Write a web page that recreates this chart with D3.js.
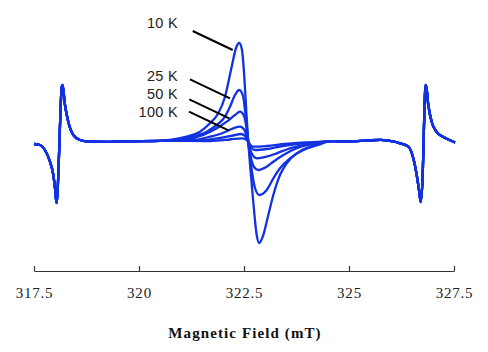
<!DOCTYPE html>
<html>
<head>
<meta charset="utf-8">
<script src="https://cdn.jsdelivr.net/npm/d3@7"></script>
<style>
  body { margin: 0; background: #fff; }
  svg { display: block; }
</style>
</head>
<body>
<div id="chart"></div>
<script>
// field in mT, signal in arbitrary units (positive = up)
var markerLow = [
    [317.50, -2], [317.64, -3], [317.76, -8], [317.88, -19.7], [317.96, -33],
    [318.00, -46], [318.036, -61], [318.079, -33], [318.119, 17], [318.16, 55],
    [318.179, 57], [318.238, 37], [318.317, 20], [318.436, 7], [318.595, 2], [318.82, 0.3]
];
var markerHigh = [
    [326.214, -1.3], [326.412, -4.7], [326.531, -16.3], [326.612, -33], [326.674, -50],
    [326.707, -60], [326.755, -33], [326.786, 17], [326.817, 54], [326.833, 57],
    [326.888, 37], [326.969, 20], [327.088, 10], [327.245, 5], [327.483, 0.3], [327.524, -0.5]
];
var baselineLow = [[319.2, 0.2], [319.6, 0.6], [320.1, 0.8], [320.5, 1.2]];
var baselineHigh = [[324.6, 0.8], [325.0, 0.6], [325.4, 1.4], [325.75, 2.2], [326.05, 0.6]];

var temps = ["10 K", "25 K", "50 K", "100 K", "", ""];

var centre10 = [
    [320.738, 2], [321.136, 5.3], [321.452, 10.3], [321.69, 18.7], [321.888, 28.7],
    [322.048, 45.3], [322.207, 75.3], [322.31, 94], [322.388, 99], [322.452, 92],
    [322.512, 62], [322.56, 27], [322.602, 0], [322.655, -28], [322.721, -60],
    [322.802, -93], [322.864, -101], [322.96, -93], [323.079, -73], [323.198, -53],
    [323.357, -33], [323.517, -21.3], [323.755, -11.3], [324.071, -4.7], [324.469, 0.3]
];
var centre25 = [
    [320.898, 2], [321.293, 5.3], [321.612, 10.3], [321.85, 17], [322.048, 25.3],
    [322.167, 35.3], [322.286, 47], [322.388, 52], [322.476, 46], [322.536, 27],
    [322.602, 0], [322.667, -23], [322.762, -46], [322.864, -53], [323.04, -48],
    [323.198, -36.3], [323.357, -26.3], [323.595, -16.3], [323.912, -8], [324.31, -2.3], [324.5, 0.6]
];
var centre50 = [
    [321.136, 2.7], [321.531, 7], [321.85, 13.7], [322.088, 20.3], [322.286, 27],
    [322.405, 30.3], [322.5, 26], [322.56, 14], [322.602, 0], [322.667, -16],
    [322.738, -25], [322.84, -28], [323.04, -24.7], [323.198, -19.7], [323.436, -13],
    [323.755, -6.3], [324.231, -1.3], [324.52, 0.4]
];
var centre100 = [
    [321.293, 2], [321.69, 5.3], [322.007, 9.3], [322.245, 13.7], [322.405, 15.3],
    [322.512, 12], [322.602, 0], [322.679, -11], [322.802, -16.3], [323.04, -14.7],
    [323.278, -11.3], [323.595, -6.3], [323.993, -2.3], [324.45, 0.5]
];
var centre150 = [
    [321.452, 1.5], [321.929, 4], [322.238, 6.5], [322.429, 8], [322.524, 6],
    [322.602, 0], [322.679, -6], [322.762, -8], [323.04, -7], [323.357, -4.5],
    [323.833, -1.5], [324.4, 0.2]
];
var centre200 = [
    [321.69, 1], [322.167, 2.5], [322.445, 3.7], [322.548, 2.5], [322.602, 0],
    [322.667, -3.5], [322.721, -4.7], [323.04, -4], [323.476, -2], [323.952, -0.5], [324.4, 0.4]
];
var centres = [centre10, centre25, centre50, centre100, centre150, centre200];

// leader line ends (field, signal) for the labelled curves
var leaderEnds = [[322.231, 92], [322.167, 43.7], [322.15, 23.7], [322.143, 11.3]];
var labelY = [28, 81, 99, 117];

var xTicks = [317.5, 320, 322.5, 325, 327.5];

function init() {
    var w = 488, h = 352;

    var svg = d3.select("#chart").append("svg")
        .attr("width", w)
        .attr("height", h);

    var x = d3.scaleLinear().domain([317.5, 327.5]).range([34, 454]);
    var y = d3.scaleLinear().domain([-100, 100]).range([242, 42]);

    var line = d3.line()
        .x(function (d) { return x(d[0]); })
        .y(function (d) { return y(d[1]); })
        .curve(d3.curveMonotoneX);

    var spectra = centres.map(function (c) {
        var first = c[0][0], last = c[c.length - 1][0];
        return markerLow
            .concat(baselineLow.filter(function (p) { return p[0] < first; }))
            .concat(c)
            .concat(baselineHigh.filter(function (p) { return p[0] > last; }))
            .concat(markerHigh);
    });

    svg.append("g").selectAll("path")
        .data(spectra.slice().reverse())
        .enter().append("path")
        .attr("d", line)
        .attr("fill", "none")
        .attr("stroke", "#1232e2")
        .attr("stroke-width", 2.3)
        .attr("stroke-linejoin", "round");

    // x axis
    var axis = d3.axisBottom(x).tickValues(xTicks).tickSizeOuter(0).tickSizeInner(-5)
        .tickFormat(function (d) { return d; });
    var gx = svg.append("g").attr("transform", "translate(0,271)").call(axis);
    gx.select(".domain").attr("stroke", "#333").attr("stroke-width", 1.2);
    gx.selectAll(".tick line").attr("stroke", "#333").attr("stroke-width", 1.2);
    gx.selectAll(".tick text")
        .attr("font-family", "'Liberation Serif', 'Times New Roman', serif")
        .attr("font-size", 15)
        .attr("letter-spacing", 0.8)
        .attr("fill", "#222")
        .attr("dy", null)
        .attr("y", 27);

    svg.append("text")
        .attr("x", 245)
        .attr("y", 338)
        .attr("text-anchor", "middle")
        .attr("font-family", "'Liberation Serif', 'Times New Roman', serif")
        .attr("font-weight", "bold")
        .attr("font-size", 15)
        .attr("letter-spacing", 1.1)
        .attr("fill", "#111")
        .text("Magnetic Field  (mT)");

    // labels and leaders
    leaderEnds.forEach(function (e, i) {
        var ex = x(e[0]), ey = y(e[1]);
        svg.append("line")
            .attr("x1", ex - 40).attr("y1", ey - 19)
            .attr("x2", ex).attr("y2", ey)
            .attr("stroke", "#000")
            .attr("stroke-width", 2);
        svg.append("text")
            .attr("x", 178)
            .attr("y", labelY[i])
            .attr("text-anchor", "end")
            .attr("font-family", "'Liberation Sans', Arial, sans-serif")
            .attr("font-size", 14.5)
            .attr("letter-spacing", 0.3)
            .attr("fill", "#222")
            .text(temps[i]);
    });
}
window.onload = init;
</script>
</body>
</html>
